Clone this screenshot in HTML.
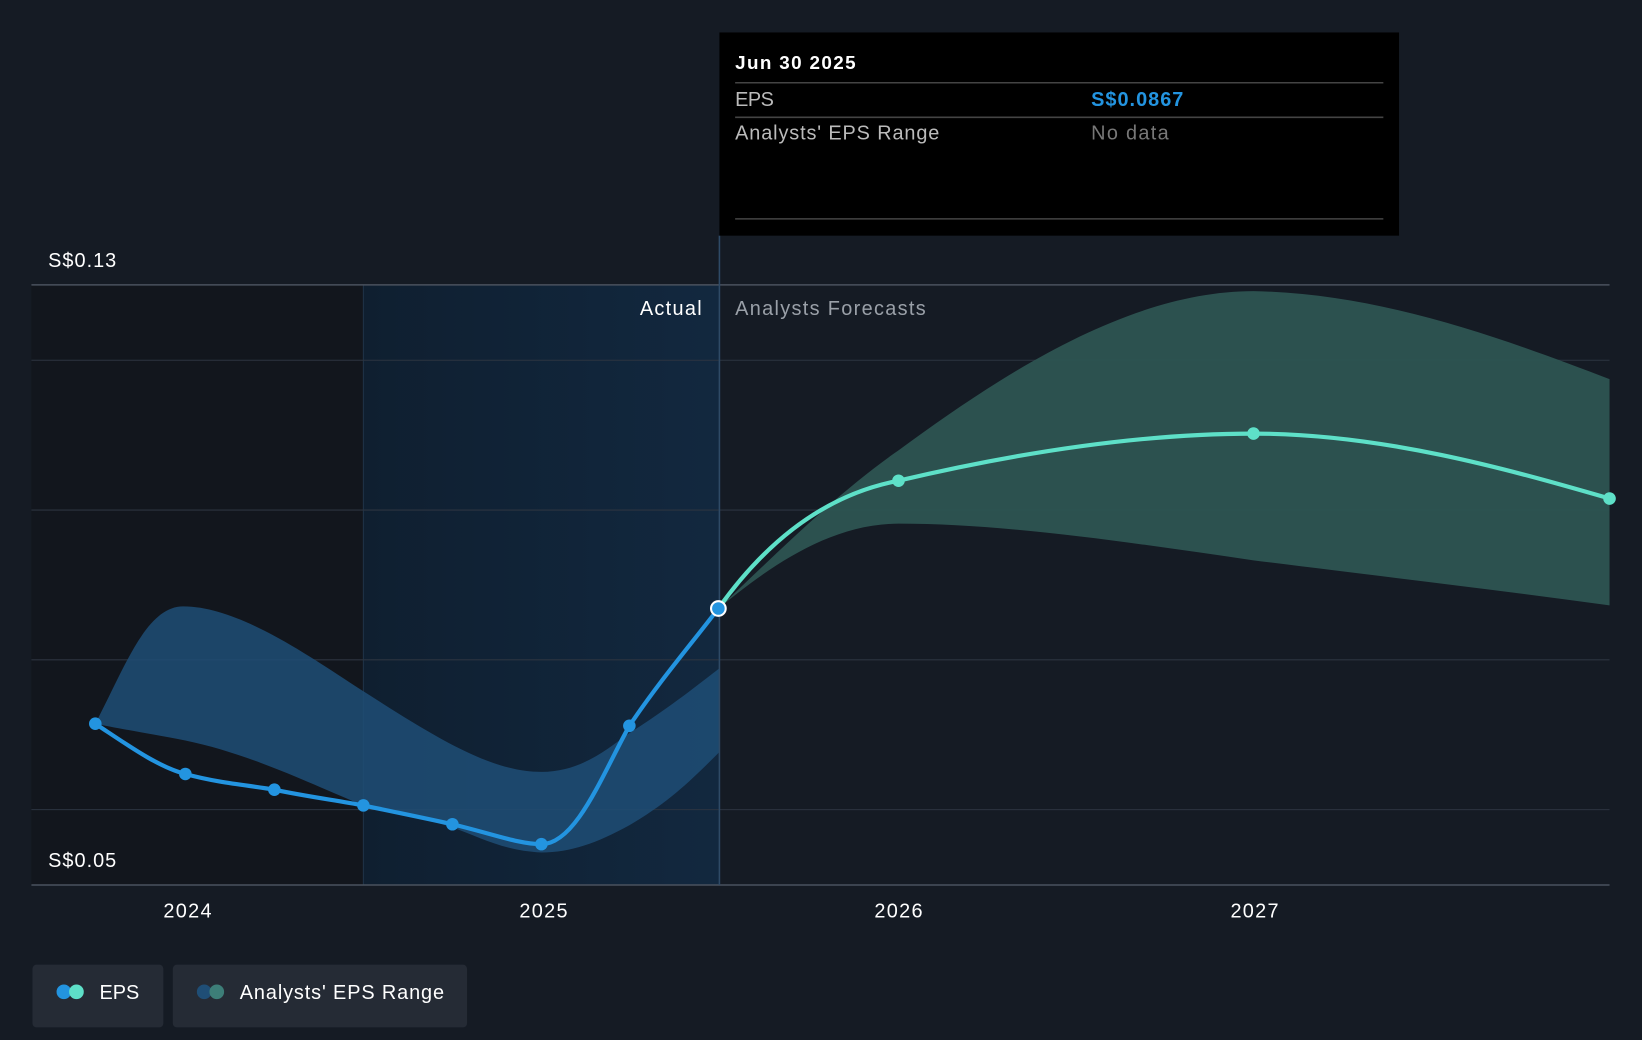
<!DOCTYPE html>
<html><head><meta charset="utf-8"><style>
html,body{margin:0;padding:0;background:#151b24;}
svg{display:block;font-family:"Liberation Sans",sans-serif;}
</style></head><body>
<svg width="1642" height="1040" viewBox="0 0 1568 993" preserveAspectRatio="none" xmlns="http://www.w3.org/2000/svg">
<defs>
<linearGradient id="hl" x1="0" x2="1" y1="0" y2="0">
<stop offset="0" stop-color="#0f1f30"/><stop offset="1" stop-color="#12283f"/>
</linearGradient>
</defs>
<rect width="1568" height="993" fill="#151b24"/>
<rect x="30" y="272" width="317" height="573" fill="#12161d"/>
<rect x="347" y="272" width="340" height="573" fill="url(#hl)"/>
<line x1="347" y1="272" x2="347" y2="845" stroke="#1f3347" stroke-width="1"/>
<g stroke="#2c3440" stroke-width="1">
<line x1="30" y1="344" x2="1537" y2="344"/>
<line x1="30" y1="487" x2="1537" y2="487"/>
<line x1="30" y1="630" x2="1537" y2="630"/>
<line x1="30" y1="773" x2="1537" y2="773"/>
</g>
<line x1="30" y1="272" x2="1537" y2="272" stroke="#4a525e" stroke-width="1.5"/>
<line x1="30" y1="845" x2="1537" y2="845" stroke="#4a525e" stroke-width="1.5"/>
<path d="M91,691 C120,635 140,579 175,579 C230,579 300,630 347,660 C420,707 470,737 517,737 C555,737 580,715 601,700 C640,675 665,655 687,638 L687,718 C660,745 640,765 601,788 C570,805 545,814 517,814 C480,812 460,800 432,790 C400,780 370,775 347,769 C300,750 240,720 177,707 C140,700 110,695 91,691 Z" fill="#1f4e76" opacity="0.85"/>
<path d="M686,581 C740,530 800,470 858,430 C960,355 1080,278 1197,278 C1320,280 1440,325 1537,362 L1537,578 C1420,562 1300,548 1197,535 C1080,518 960,500 858,500 C790,500 730,545 686,581 Z" fill="#2d5452" opacity="0.95"/>
<line x1="687" y1="225" x2="687" y2="845" stroke="#2e4a66" stroke-width="1.5"/>
<path d="M91,691 C120,710 150,732 177,739 C210,748 240,750 262,754 C290,760 320,764 347,769 C380,776 405,781 432,787 C470,796 495,806 517,806 C550,806 575,740 601,693 C630,650 660,615 686,581" fill="none" stroke="#2394e0" stroke-width="4"/>
<path d="M686,581 C740,505 800,470 858,459 C960,435 1080,414 1197,414 C1320,414 1440,448 1537,476" fill="none" stroke="#5ee0c8" stroke-width="4"/>
<g fill="#2394e0">
<circle cx="91" cy="691" r="6"/><circle cx="177" cy="739" r="6"/><circle cx="262" cy="754" r="6"/>
<circle cx="347" cy="769" r="6"/><circle cx="432" cy="787" r="6"/><circle cx="517" cy="806" r="6"/>
<circle cx="601" cy="693" r="6"/>
</g>
<g fill="#5ee0c8"><circle cx="858" cy="459" r="6"/><circle cx="1197" cy="414" r="6"/><circle cx="1537" cy="476" r="6"/></g>
<circle cx="686" cy="581" r="7" fill="#2394e0" stroke="#fff" stroke-width="2"/>
<text x="46" y="255" fill="#fff" font-size="19" textLength="65">S$0.13</text>
<text x="46" y="828" fill="#fff" font-size="19" textLength="65">S$0.05</text>
<text x="611" y="301" fill="#fff" font-size="19" textLength="59">Actual</text>
<text x="702" y="301" fill="#9aa0a8" font-size="19" textLength="182">Analysts Forecasts</text>
<g fill="#fff" font-size="19">
<text x="156" y="876" textLength="46">2024</text><text x="496" y="876" textLength="46">2025</text>
<text x="835" y="876" textLength="46">2026</text><text x="1175" y="876" textLength="46">2027</text>
</g>
<rect x="687" y="31" width="649" height="194" fill="#000"/>
<text x="702" y="66" fill="#fff" font-size="18" font-weight="600" textLength="115">Jun 30 2025</text>
<line x1="702" y1="79" x2="1321" y2="79" stroke="#444" stroke-width="1.5"/>
<text x="702" y="101" fill="#bbb" font-size="19" textLength="37">EPS</text>
<text x="1042" y="101" fill="#2394e0" font-size="19" font-weight="bold" textLength="88">S$0.0867</text>
<line x1="702" y1="112" x2="1321" y2="112" stroke="#444" stroke-width="1.5"/>
<text x="702" y="133" fill="#bbb" font-size="19" textLength="195">Analysts' EPS Range</text>
<text x="1042" y="133" fill="#777" font-size="19" textLength="74">No data</text>
<line x1="702" y1="209" x2="1321" y2="209" stroke="#444" stroke-width="1.5"/>
<rect x="31" y="921" width="125" height="60" rx="4" fill="#252b35"/>
<circle cx="61" cy="947" r="7" fill="#2394e0"/><circle cx="73" cy="947" r="7" fill="#5ee0c8"/>
<text x="95" y="954" fill="#fff" font-size="19" textLength="38">EPS</text>
<rect x="165" y="921" width="281" height="60" rx="4" fill="#252b35"/>
<circle cx="195" cy="947" r="7" fill="#1f4e76"/><circle cx="207" cy="947" r="7" fill="#3d7e78"/>
<text x="229" y="954" fill="#fff" font-size="19" textLength="195">Analysts' EPS Range</text>
</svg>
</body></html>
